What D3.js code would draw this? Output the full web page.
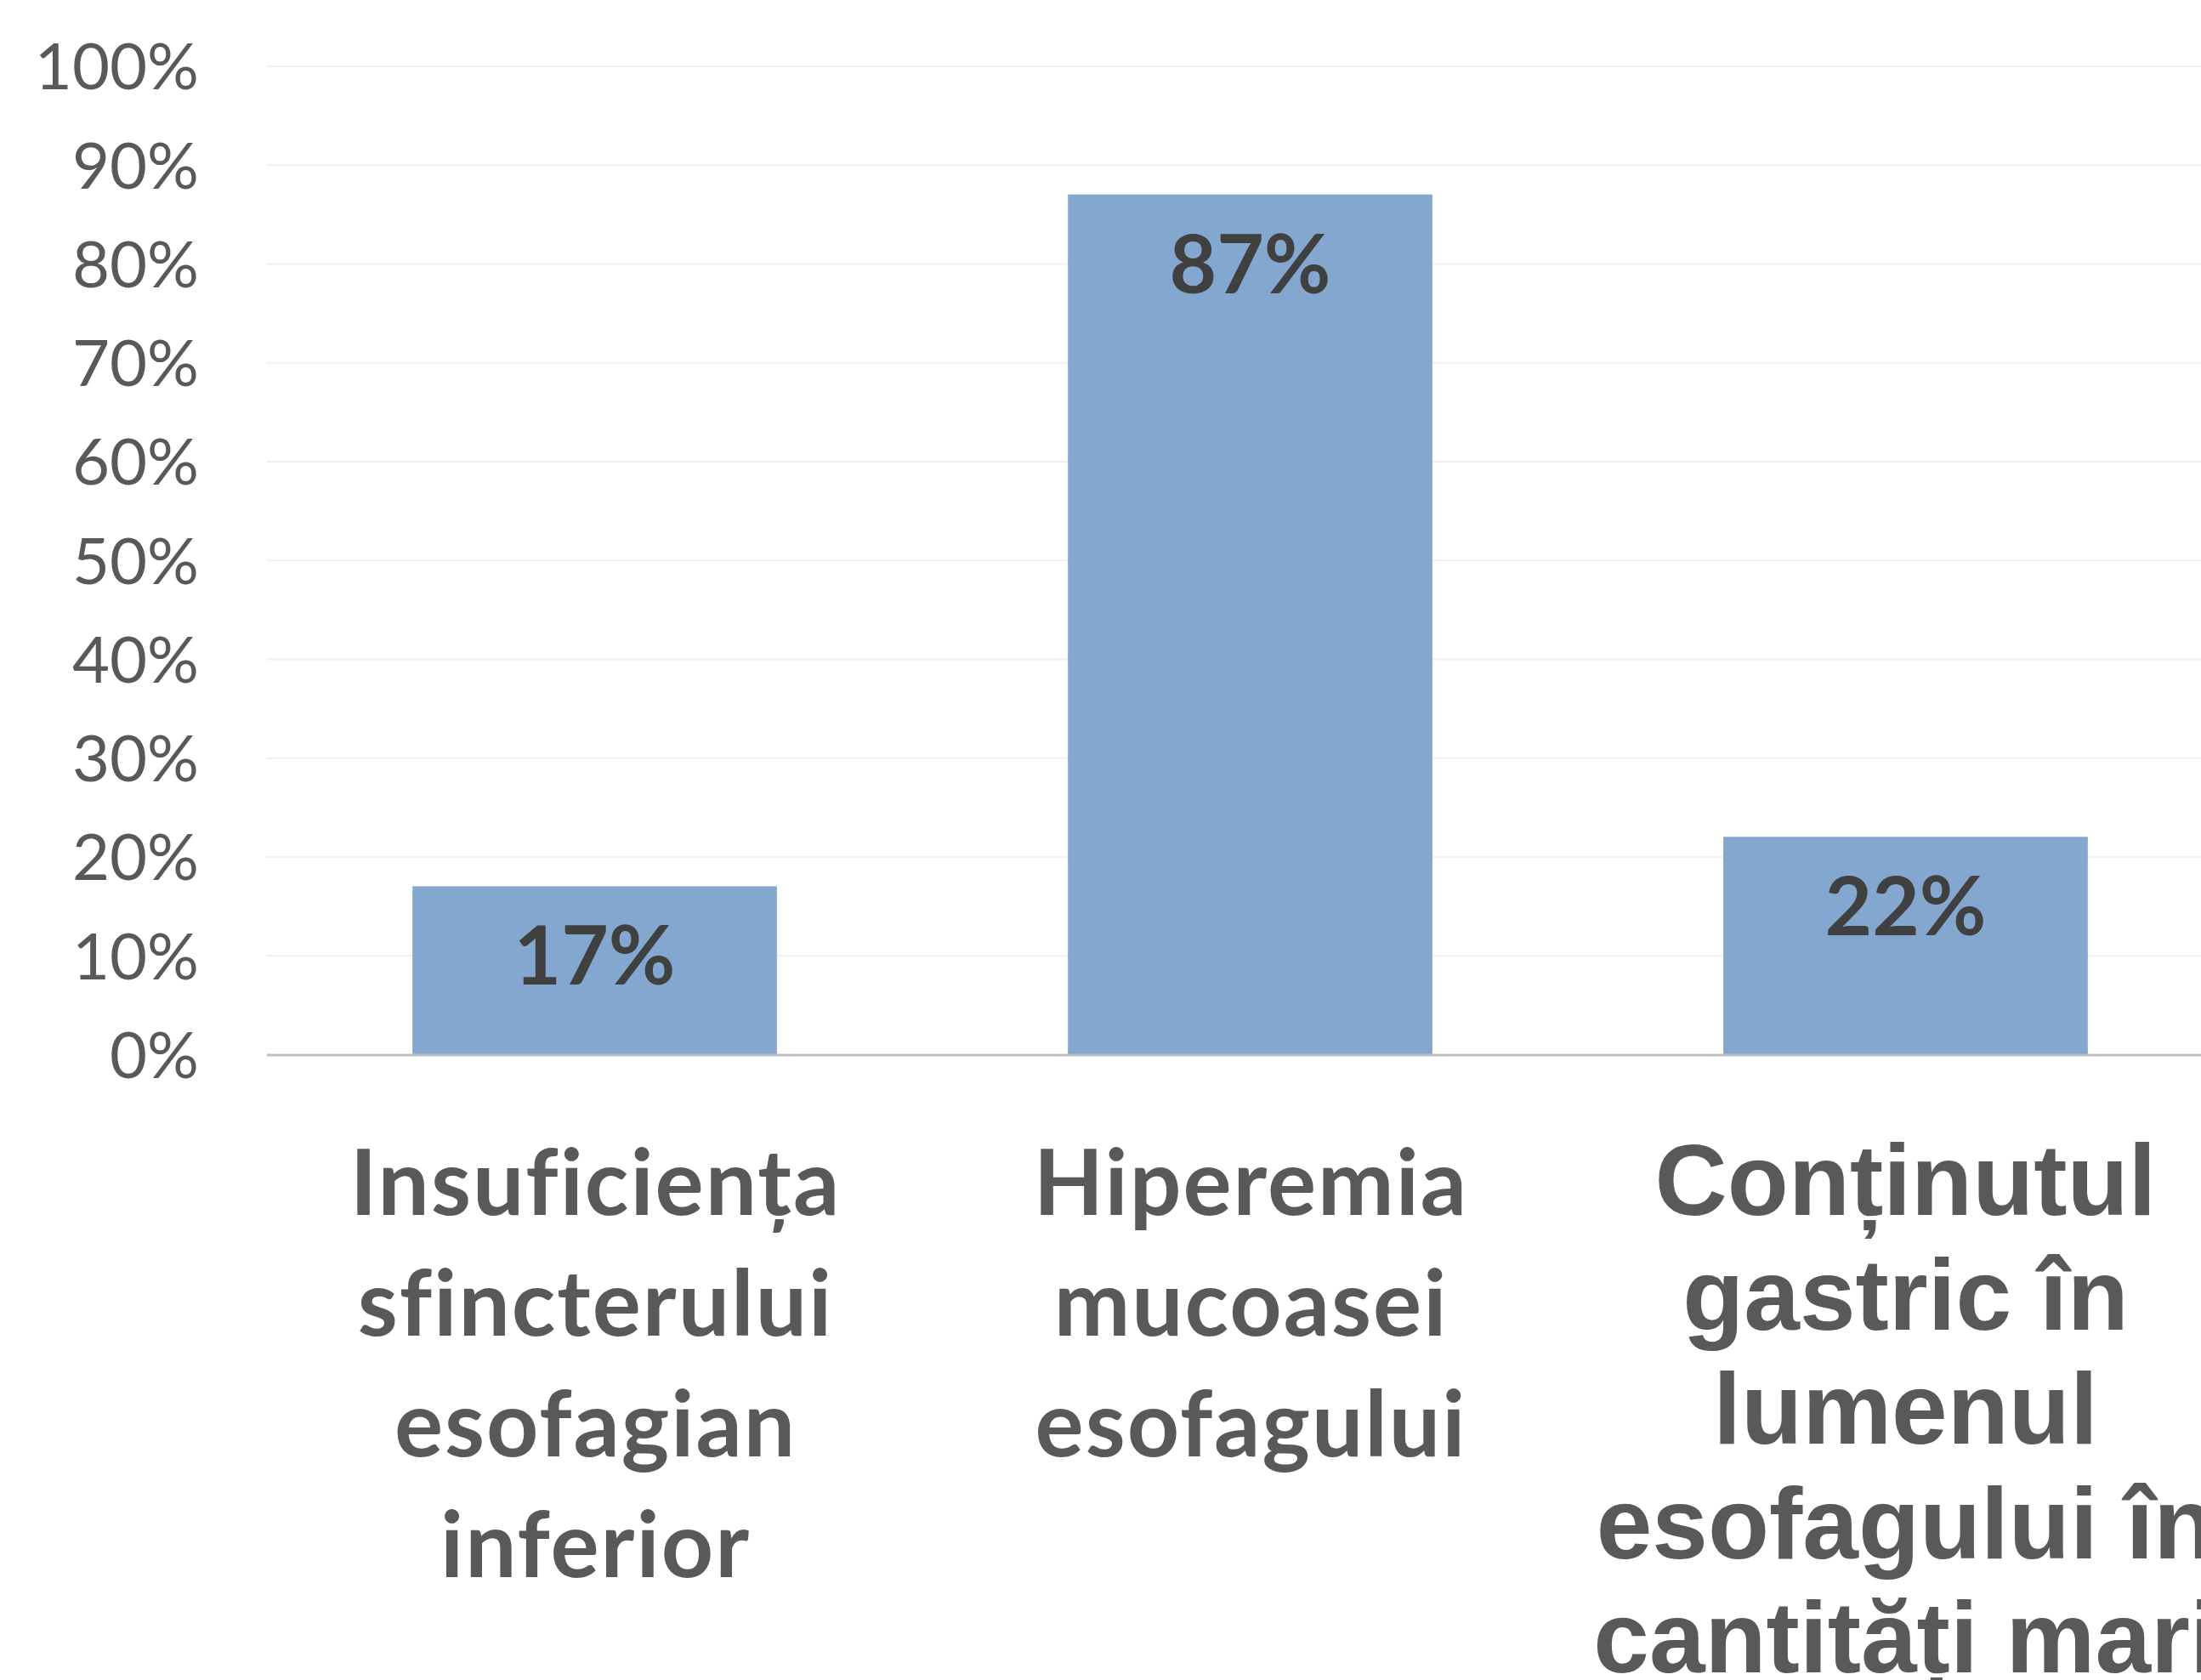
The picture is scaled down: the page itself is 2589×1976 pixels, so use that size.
<!DOCTYPE html>
<html>
<head>
<meta charset="utf-8">
<script src="https://cdn.jsdelivr.net/npm/d3@7"></script>
<style>
  html, body { margin: 0; padding: 0; background: #fff; overflow: hidden; }
  svg { display: block; }
</style>
</head>
<body>
<svg></svg>
<script>
 // chart data
 let categories = ['cat1', 'cat2', 'cat3'];
 let categoryLines = [
   ['Insuficiența', 'sfincterului', 'esofagian', 'inferior'],
   ['Hiperemia', 'mucoasei', 'esofagului'],
   ['Conținutul', 'gastric în', 'lumenul', 'esofagului în', 'cantități mari']
 ];
 let values = [0.17, 0.87, 0.22];
 let valueLabels = ['17%', '87%', '22%'];
 let tickValues = [0, 0.1, 0.2, 0.3, 0.4, 0.5, 0.6, 0.7, 0.8, 0.9, 1.0];

 let width = 2589;
 let height = 1976;
 let plotLeft = 314;
 let plotRight = 2627;
 let plotTop = 77.6;
 let plotBottom = 1240;

 let svg = d3.select('svg')
   .attr('width', width)
   .attr('height', height);

 let xScale = d3.scaleBand()
   .domain(categories)
   .range([plotLeft, plotRight])
   .paddingInner(0.444)
   .paddingOuter(0.222);

 let yScale = d3.scaleLinear()
   .domain([0, 1])
   .range([plotBottom, plotTop]);

 // gridlines
 let grid = svg.append('g')
   .attr('transform', `translate(${plotLeft}, 0)`)
   .call(d3.axisLeft(yScale).tickValues(tickValues.slice(1)).tickSize(-(plotRight - plotLeft)).tickFormat(''));
 grid.select('.domain').remove();
 grid.selectAll('line').attr('stroke', '#f0f0f0').attr('stroke-width', 2);

 // y axis labels
 let yAxis = svg.append('g')
   .attr('transform', `translate(${plotLeft}, 0)`)
   .call(d3.axisLeft(yScale).tickValues(tickValues).tickSize(0).tickPadding(80).tickFormat(d3.format('.0%')));
 yAxis.select('.domain').remove();
 yAxis.selectAll('text')
   .attr('font-family', 'Lato, "Open Sans", sans-serif')
   .attr('font-size', 76)
   .attr('fill', '#595959')
   .attr('dy', '0.36em');

 // bars
 svg.selectAll('rect.bar')
   .data(values)
   .enter()
   .append('rect')
   .attr('class', 'bar')
   .attr('x', (d, i) => xScale(categories[i]))
   .attr('width', xScale.bandwidth())
   .attr('y', d => yScale(d))
   .attr('height', d => plotBottom - yScale(d))
   .attr('fill', '#84a7cf');

 // x axis baseline
 svg.append('line')
   .attr('x1', plotLeft)
   .attr('x2', width)
   .attr('y1', plotBottom + 1)
   .attr('y2', plotBottom + 1)
   .attr('stroke', '#bfbfbf')
   .attr('stroke-width', 3);

 // value labels inside bars
 svg.selectAll('text.value')
   .data(values)
   .enter()
   .append('text')
   .attr('class', 'value')
   .attr('x', (d, i) => xScale(categories[i]) + xScale.bandwidth() / 2)
   .attr('y', d => yScale(d) + 116)
   .attr('text-anchor', 'middle')
   .attr('font-family', 'Lato, sans-serif')
   .attr('font-weight', 'bold')
   .attr('font-size', 96)
   .attr('fill', '#404040')
   .text((d, i) => valueLabels[i]);

 // category labels
 let catFonts = [
   { family: 'Lato, sans-serif', size: 107, lh: 142, ls: 2 },
   { family: 'Lato, sans-serif', size: 107, lh: 142, ls: 2 },
   { family: '"Liberation Sans", Arial, sans-serif', size: 118, lh: 134.5, ls: 0 }
 ];
 categoryLines.forEach((lines, i) => {
   let f = catFonts[i];
   let cx = xScale(categories[i]) + xScale.bandwidth() / 2 + f.ls / 2;
   let t = svg.append('text')
     .attr('text-anchor', 'middle')
     .attr('font-family', f.family)
     .attr('font-weight', 'bold')
     .attr('font-size', f.size)
     .attr('letter-spacing', f.ls)
     .attr('fill', '#595959');
   lines.forEach((line, j) => {
     t.append('tspan')
       .attr('x', cx)
       .attr('y', 1429 + j * f.lh)
       .text(line);
   });
 });
</script>
</body>
</html>
